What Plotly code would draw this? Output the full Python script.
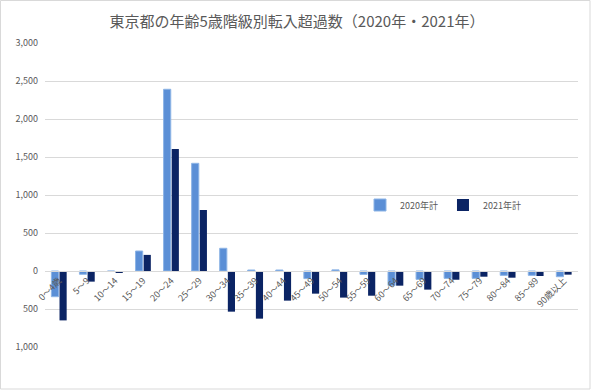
import plotly.graph_objects as go

categories = ["0～4歳", "5～9", "10～14", "15～19", "20～24", "25～29", "30～34", "35～39",
              "40～44", "45～49", "50～54", "55～59", "60～64", "65～69", "70～74", "75～79",
              "80～84", "85～89", "90歳以上"]
values_2020 = [-338, -43, -3, 263, 2391, 1417, 299, 13, 13, -100, 15, -45, -190, -110, -97, -97, -57, -57, -75]
values_2021 = [-650, -140, -20, 212, 1605, 803, -535, -627, -390, -298, -350, -325, -193, -245, -115, -75, -88, -66, -48]
series_names = ["2020年計", "2021年計"]
tick_vals = [-1000, -500, 0, 500, 1000, 1500, 2000, 2500, 3000]
tick_text = ["1,000", "500", "0", "500", "1,000", "1,500", "2,000", "2,500", "3,000"]

W, H = 592, 392
L, R, T, B = 45, 14, 43, 45
pw, ph = W - L - R, H - T - B

fig = go.Figure()
fig.add_trace(go.Bar(x=categories, y=values_2020, name=series_names[0],
                     marker=dict(color="#5b8fd6", line=dict(color="#8db4e6", width=1))))
fig.add_trace(go.Bar(x=categories, y=values_2021, name=series_names[1],
                     marker=dict(color="#0b2464", line=dict(width=0))))

ymin, ymax = -1000, 3000
zero_pos = (0 - ymin) / (ymax - ymin)

fig.update_layout(
    width=W, height=H,
    margin=dict(l=L, r=R, t=T, b=B, autoexpand=False),
    paper_bgcolor="white", plot_bgcolor="white",
    font=dict(family="Noto Sans CJK JP, Noto Sans, sans-serif", color="#595959", size=9),
    title=dict(text="東京都の年齢5歳階級別転入超過数（2020年・2021年）", x=(297 - L) / pw, xref="paper",
               xanchor="center", y=1 - 22 / H, yanchor="middle", font=dict(size=15, color="#595959")),
    barmode="group", bargap=0.42, bargroupgap=0.12,
    showlegend=True,
    legend=dict(orientation="h", x=(360 - L) / pw, xanchor="left", y=(347 - 205) / ph, yanchor="middle",
                font=dict(size=9, color="#595959"), bgcolor="rgba(0,0,0,0)",
                itemwidth=30, tracegroupgap=0),
    xaxis=dict(anchor="free", position=zero_pos, tickangle=-45, showgrid=False, automargin=False,
               showline=True, linecolor="#d9d9d9", linewidth=1, ticks="",
               tickfont=dict(size=9, color="#595959")),
    yaxis=dict(range=[ymin, ymax], tickvals=tick_vals, ticktext=tick_text, automargin=False,
               showgrid=True, gridcolor="#d9d9d9", gridwidth=1, zeroline=False,
               showline=False, ticks="", tickfont=dict(size=9, color="#595959"),
               ticklabelstandoff=6),
    shapes=[dict(type="rect", xref="paper", yref="paper",
                 x0=(0.5 - L) / pw, x1=(590 - L) / pw,
                 y0=(ph - (389 - T)) / ph, y1=(ph - (0.5 - T)) / ph,
                 line=dict(color="#d9d9d9", width=1), fillcolor="rgba(0,0,0,0)", layer="below")],
)

fig.write_html("out.html", config={"displayModeBar": False},
               post_script="document.body.style.margin='0';")
